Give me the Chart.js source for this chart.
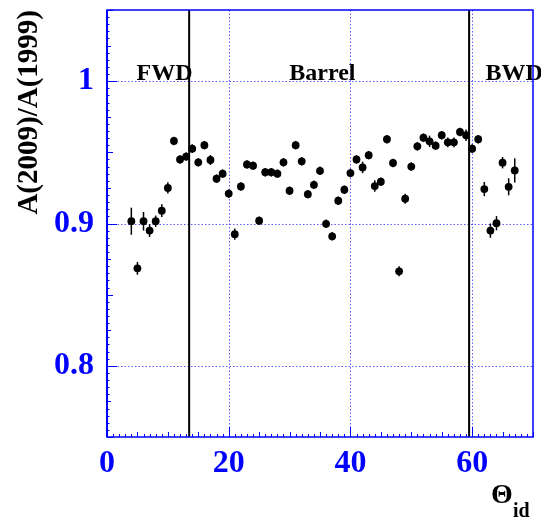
<!DOCTYPE html>
<html>
<head>
<meta charset="utf-8">
<script src="https://cdn.jsdelivr.net/npm/chart.js@4.4.0/dist/chart.umd.min.js"></script>
<style>
  html, body { margin: 0; padding: 0; background: #fff; }
  #wrap { width: 541px; height: 520px; }
</style>
</head>
<body>
<div id="wrap"><canvas id="ratioChart" width="541" height="520"></canvas></div>
<script>
// theta id of each counter and the 2009/1999 amplitude ratio
const thetaIds = [4, 5, 6, 7, 8, 9, 10, 11, 12, 13, 14, 15, 16, 17, 18, 19, 20, 21, 22, 23,
  24, 25, 26, 27, 28, 29, 30, 31, 32, 33, 34, 35, 36, 37, 38, 39, 40, 41, 42, 43,
  44, 45, 46, 47, 48, 49, 50, 51, 52, 53, 54, 55, 56, 57, 58, 59, 60, 61, 62, 63,
  64, 65, 66, 67];
const ratios = [0.9016, 0.8685, 0.9016, 0.8950, 0.9016, 0.9090, 0.9250, 0.9580, 0.9450, 0.9470,
  0.9526, 0.9430, 0.9550, 0.9446, 0.9315, 0.9350, 0.9210, 0.8925, 0.9260, 0.9415,
  0.9406, 0.9020, 0.9360, 0.9360, 0.9350, 0.9430, 0.9230, 0.9550, 0.9437, 0.9206,
  0.9272, 0.9370, 0.8998, 0.8910, 0.9160, 0.9237, 0.9354, 0.9450, 0.9394, 0.9480,
  0.9263, 0.9294, 0.9592, 0.9425, 0.8664, 0.9174, 0.9400, 0.9542, 0.9603, 0.9577,
  0.9547, 0.9620, 0.9570, 0.9570, 0.9643, 0.9620, 0.9526, 0.9592, 0.9242, 0.8950,
  0.9002, 0.9427, 0.9258, 0.9373];
const errors = [0.0095, 0.0045, 0.0065, 0.0045, 0.0040, 0.0045, 0.0040, 0.0030, 0.0030, 0.0030,
  0.0030, 0.0030, 0.0030, 0.0035, 0.0030, 0.0030, 0.0030, 0.0040, 0.0030, 0.0030,
  0.0030, 0.0030, 0.0030, 0.0030, 0.0030, 0.0030, 0.0030, 0.0030, 0.0030, 0.0030,
  0.0030, 0.0030, 0.0030, 0.0030, 0.0030, 0.0030, 0.0030, 0.0030, 0.0040, 0.0030,
  0.0040, 0.0030, 0.0030, 0.0030, 0.0035, 0.0035, 0.0030, 0.0030, 0.0030, 0.0040,
  0.0030, 0.0030, 0.0035, 0.0035, 0.0030, 0.0040, 0.0030, 0.0030, 0.0050, 0.0050,
  0.0050, 0.0040, 0.0060, 0.0085];

const xTickValues = [0, 20, 40, 60];
const yTickValues = [0.8, 0.9, 1.0];
const boundaries = [13.5, 59.5];
const regionNames = ['FWD', 'Barrel', 'BWD'];
const regionAt = [9.45, 35.4, 62.2];

const blue = '#0000ff';
const serif = '"Liberation Serif", "DejaVu Serif", serif';

const framePlugin = {
  id: 'rootFrame',
  beforeDatasetsDraw(chart) {
    const {ctx, chartArea: a, scales: {x, y}} = chart;
    ctx.save();

    // dotted grid at the labelled ticks
    ctx.strokeStyle = 'rgba(40,40,255,0.75)';
    ctx.lineWidth = 1;
    ctx.setLineDash([1.5, 2]);
    xTickValues.forEach(v => {
      if (v <= x.min || v >= x.max) return;
      const px = Math.round(x.getPixelForValue(v)) + 0.5;
      ctx.beginPath(); ctx.moveTo(px, a.top); ctx.lineTo(px, a.bottom); ctx.stroke();
    });
    yTickValues.forEach(v => {
      const py = Math.round(y.getPixelForValue(v)) + 0.5;
      ctx.beginPath(); ctx.moveTo(a.left, py); ctx.lineTo(a.right, py); ctx.stroke();
    });
    ctx.setLineDash([]);

    // detector region boundaries
    ctx.strokeStyle = '#000';
    ctx.lineWidth = 2;
    boundaries.forEach(v => {
      const px = x.getPixelForValue(v);
      ctx.beginPath(); ctx.moveTo(px, a.top); ctx.lineTo(px, a.bottom); ctx.stroke();
    });

    // region names
    ctx.fillStyle = '#000';
    ctx.font = 'bold 24px ' + serif;
    ctx.textBaseline = 'alphabetic';
    regionNames.forEach((name, i) => {
      ctx.textAlign = i === 2 ? 'left' : 'center';
      ctx.fillText(name, x.getPixelForValue(regionAt[i]), y.getPixelForValue(1.0) - 1);
    });

    // inward tick marks, ROOT style
    ctx.strokeStyle = blue;
    ctx.lineWidth = 1;
    for (let v = 0; v <= 70; v++) {
      const px = Math.round(x.getPixelForValue(v)) + 0.5;
      const len = v % 20 === 0 ? 10 : (v % 5 === 0 ? 5 : 3);
      ctx.beginPath(); ctx.moveTo(px, a.bottom); ctx.lineTo(px, a.bottom - len); ctx.stroke();
    }
    for (let k = 150; k <= 210; k++) {
      const v = k * 0.005;
      const py = Math.round(y.getPixelForValue(v)) + 0.5;
      const len = k % 20 === 0 ? 10 : (k % 10 === 0 ? 6 : (k % 5 === 0 ? 4 : 2.5));
      ctx.beginPath(); ctx.moveTo(a.left, py); ctx.lineTo(a.left + len, py); ctx.stroke();
    }

    // frame
    ctx.lineWidth = 1.5;
    ctx.strokeRect(a.left, a.top, a.right - a.left, a.bottom - a.top);
    ctx.lineWidth = 2;
    ctx.beginPath(); ctx.moveTo(a.left, a.top); ctx.lineTo(a.left, a.bottom); ctx.stroke();

    // error bars
    ctx.strokeStyle = '#000';
    ctx.lineWidth = 1.5;
    thetaIds.forEach((t, i) => {
      const px = x.getPixelForValue(t);
      ctx.beginPath();
      ctx.moveTo(px, y.getPixelForValue(ratios[i] - errors[i]));
      ctx.lineTo(px, y.getPixelForValue(ratios[i] + errors[i]));
      ctx.stroke();
    });
    ctx.restore();
  },
  afterDraw(chart) {
    const {ctx} = chart;
    ctx.save();
    ctx.fillStyle = '#000';
    ctx.textAlign = 'left';
    ctx.textBaseline = 'alphabetic';
    ctx.font = 'bold 28px ' + serif;
    ctx.fillText('\u0398', 491, 503);
    ctx.font = 'bold 20px ' + serif;
    ctx.fillText('id', 513, 517);
    ctx.restore();
  }
};

const ctx = document.getElementById('ratioChart');

new Chart(ctx, {
  type: 'scatter',
  data: {
    datasets: [{
      data: thetaIds.map((t, i) => ({x: t, y: ratios[i]})),
      pointRadius: 3.9,
      pointBackgroundColor: '#000',
      pointBorderWidth: 0,
      showLine: false
    }]
  },
  options: {
    responsive: false,
    animation: false,
    layout: {padding: {top: 10, right: 8, left: 0, bottom: 0}},
    plugins: {
      legend: {display: false},
      tooltip: {enabled: false}
    },
    scales: {
      x: {
        type: 'linear',
        min: 0,
        max: 70,
        grid: {display: false},
        border: {display: false},
        afterBuildTicks: s => { s.ticks = xTickValues.map(v => ({value: v})); },
        afterFit: s => { s.height = 83; s.paddingLeft = 0; s.paddingRight = 0; },
        ticks: {
          color: blue,
          font: {family: serif, size: 32, weight: 'bold'},
          padding: 0,
          maxRotation: 0,
          autoSkip: false,
          callback: v => String(v)
        }
      },
      y: {
        type: 'linear',
        min: 0.75,
        max: 1.05,
        grid: {display: false},
        border: {display: false},
        afterBuildTicks: s => { s.ticks = yTickValues.map(v => ({value: v})); },
        afterFit: s => { s.width = 107; s.paddingTop = 0; s.paddingBottom = 0; },
        ticks: {
          color: blue,
          font: {family: serif, size: 32, weight: 'bold'},
          padding: 5,
          autoSkip: false,
          callback: v => String(+v.toFixed(2))
        },
        title: {
          display: true,
          text: 'A(2009)/A(1999)',
          align: 'end',
          color: '#000',
          font: {family: serif, size: 29, weight: 'bold'},
          padding: {top: 12, bottom: 0}
        }
      }
    }
  },
  plugins: [framePlugin]
});
</script>
</body>
</html>
